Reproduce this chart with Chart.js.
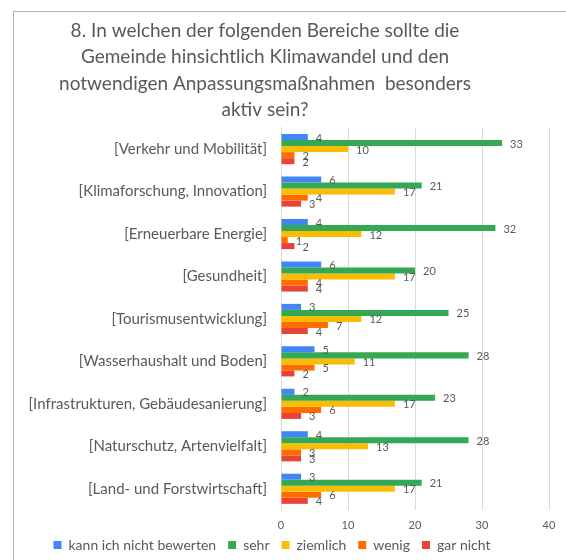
<!DOCTYPE html>
<html>
<head>
<meta charset="utf-8">
<script src="https://cdn.jsdelivr.net/npm/chart.js@4"></script>
<style>
  html, body { margin: 0; padding: 0; background: #fff; overflow: hidden; }
  #wrap { position: relative; width: 566px; height: 560px; overflow: hidden; }
  #frame { position: absolute; left: 13px; top: 11px; width: 600px; height: 600px;
           border-left: 1px solid #b4b4b4; border-top: 1px solid #b4b4b4; }
  #chart { position: absolute; left: -27px; top: 0; }
</style>
</head>
<body>
<div id="wrap">
  <div id="frame"></div>
  <canvas id="chart" width="584" height="568"></canvas>
</div>
<script>
// categories, top to bottom
const categories = [
    '[Verkehr und Mobilität]',
    '[Klimaforschung, Innovation]',
    '[Erneuerbare Energie]',
    '[Gesundheit]',
    '[Tourismusentwicklung]',
    '[Wasserhaushalt und Boden]',
    '[Infrastrukturen, Gebäudesanierung]',
    '[Naturschutz, Artenvielfalt]',
    '[Land- und Forstwirtschaft]'
];

const kannNicht = [4, 6, 4, 6, 3, 5, 2, 4, 3];
const sehr      = [33, 21, 32, 20, 25, 28, 23, 28, 21];
const ziemlich  = [10, 17, 12, 17, 12, 11, 17, 13, 17];
const wenig     = [2, 4, 1, 4, 7, 5, 6, 3, 6];
const garNicht  = [2, 3, 2, 4, 4, 2, 3, 3, 4];

const titleLines = [
    '8. In welchen der folgenden Bereiche sollte die',
    'Gemeinde hinsichtlich Klimawandel und den',
    'notwendigen Anpassungsmaßnahmen  besonders',
    'aktiv sein?'
];

const textGray = '#595959';
const fontName = 'Lato';

// value labels at the end of each bar
const barLabels = {
    id: 'barLabels',
    afterDatasetsDraw(chart) {
        const ctx = chart.ctx;
        ctx.save();
        ctx.font = '11px ' + fontName;
        ctx.fillStyle = textGray;
        ctx.textAlign = 'left';
        ctx.textBaseline = 'middle';
        chart.data.datasets.forEach((ds, i) => {
            const meta = chart.getDatasetMeta(i);
            if (meta.hidden) return;
            meta.data.forEach((bar, j) => {
                ctx.fillText(String(ds.data[j]), bar.x + 8, bar.y + 1);
            });
        });
        ctx.restore();
    }
};

// legend sits a bit right of the title and closer to the axis in the original
const legendShift = {
    id: 'legendShift',
    afterLayout(chart) {
        const lg = chart.legend;
        lg.left += 7;
        lg.right += 7;
        lg.top -= 6;
        lg.bottom -= 6;
    }
};

const ctx = document.getElementById('chart').getContext('2d');
new Chart(ctx, {
    type: 'bar',
    data: {
        labels: categories,
        datasets: [
            { label: 'kann ich nicht bewerten', data: kannNicht, backgroundColor: '#4285f4' },
            { label: 'sehr', data: sehr, backgroundColor: '#34a853' },
            { label: 'ziemlich', data: ziemlich, backgroundColor: '#fbbc04' },
            { label: 'wenig', data: wenig, backgroundColor: '#ff6d01' },
            { label: 'gar nicht', data: garNicht, backgroundColor: '#ea4335' }
        ]
    },
    options: {
        indexAxis: 'y',
        responsive: false,
        animation: false,
        layout: { padding: 0 },
        datasets: {
            bar: { categoryPercentage: 0.71, barPercentage: 1.0 }
        },
        scales: {
            x: {
                min: 0,
                max: 40,
                ticks: { stepSize: 10, color: textGray, font: { family: fontName, size: 11 }, padding: 9 },
                grid: { color: '#d9d9d9', drawTicks: false },
                border: { display: false },
                afterFit: (scale) => {
                    scale.height = 22;
                    scale.paddingRight = 8;
                }
            },
            y: {
                ticks: { color: textGray, font: { family: fontName, size: 15 }, padding: 14 },
                grid: { display: false, drawTicks: false },
                border: { display: true, color: '#d9d9d9' },
                afterFit: (scale) => { scale.width = 308; }
            }
        },
        plugins: {
            title: {
                display: true,
                text: titleLines,
                color: textGray,
                font: { family: fontName, size: 19, weight: 'normal', lineHeight: 1.38 },
                padding: { top: 18, bottom: 5 }
            },
            legend: {
                position: 'bottom',
                labels: {
                    boxWidth: 8,
                    boxHeight: 8,
                    padding: 12,
                    color: textGray,
                    font: { family: fontName, size: 14 }
                }
            },
            tooltip: { enabled: false }
        }
    },
    plugins: [barLabels, legendShift]
});
</script>
</body>
</html>
